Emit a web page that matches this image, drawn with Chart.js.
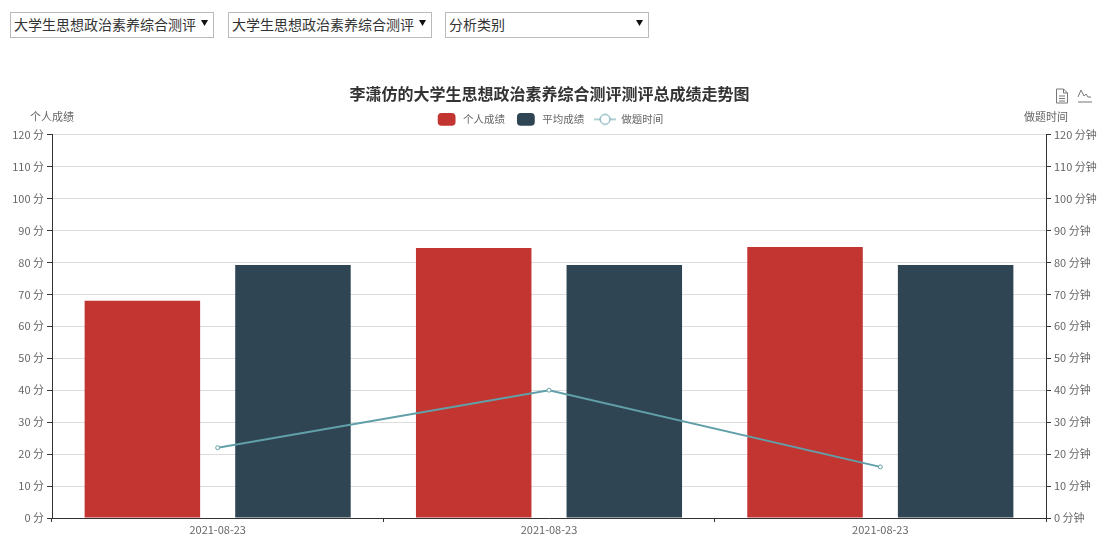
<!DOCTYPE html>
<html lang="zh">
<head>
<meta charset="utf-8">
<title>走势图</title>
<script src="https://cdn.jsdelivr.net/npm/chart.js@4"></script>
<style>
  html, body { margin: 0; padding: 0; background: #fff; overflow: hidden; }
  body { width: 1099px; height: 534px; position: relative; font-family: "Noto Sans CJK SC", sans-serif; }
  canvas { position: absolute; left: 0; top: 0; }
  select {
    position: absolute; top: 12px; height: 26px; box-sizing: border-box;
    border: 1px solid #bbb; border-radius: 0; background: #fff; color: #333;
    font: 14px "Noto Sans CJK SC", sans-serif; padding: 0 0 2px 3px;
    -webkit-appearance: none; appearance: none;
    background-image: url("data:image/svg+xml,%3Csvg xmlns='http://www.w3.org/2000/svg' width='8' height='6'%3E%3Cpath d='M0 0h7L3.500 6z' fill='%23111'/%3E%3C/svg%3E");
    background-repeat: no-repeat; background-position: right 4px top 7px;
  }
  .axis-name { position: absolute; top: 109px; font-size: 11px; line-height: 14px; color: #666; }
  .tool { position: absolute; top: 88px; }
</style>
</head>
<body>
<select style="left:10px;width:204px"><option>大学生思想政治素养综合测评</option></select>
<select style="left:228px;width:204px"><option>大学生思想政治素养综合测评</option></select>
<select style="left:445px;width:204px"><option>分析类别</option></select>

<canvas id="trendChart" width="1099" height="534"></canvas>

<span class="axis-name" style="left:30px">个人成绩</span>
<span class="axis-name" style="left:1024px">做题时间</span>

<svg class="tool" style="left:1055px" width="14" height="16" viewBox="0 0 14 16" fill="none" stroke="#777">
  <path d="M1.500 1h7l4 4v10h-11zM8.500 1v4h4M4 8h6M4 10.500h6M4 13h6"/>
</svg>
<svg class="tool" style="left:1077px" width="16" height="16" viewBox="0 0 16 16" fill="none" stroke="#777">
  <path d="M1 9l3-7 3 6 2-2 2 3h3M1 14h14"/>
</svg>

<script>
const categories = ['2021-08-23', '2021-08-23', '2021-08-23'];
const personalScores = [68, 84.5, 84.8];
const averageScores = [79.2, 79.2, 79.2];
const durationMinutes = [22, 40, 16];
const chartTitle = '李潇仿的大学生思想政治素养综合测评测评总成绩走势图';

const FONT = '"Noto Sans CJK SC", sans-serif';
const RED = '#c23531', NAVY = '#2f4554', TEAL = '#61a0a8';

// legend swatch for the line series: short line with an open circle
function lineSwatch() {
  const c = document.createElement('canvas');
  c.width = 22; c.height = 14;
  const g = c.getContext('2d');
  g.strokeStyle = TEAL;
  g.lineWidth = 1;
  g.beginPath();
  g.moveTo(0, 7); g.lineTo(22, 7);
  g.stroke();
  g.beginPath();
  g.arc(11, 7, 5, 0, Math.PI * 2);
  g.fillStyle = '#fff';
  g.fill();
  g.stroke();
  return c;
}

function yAxis(position, unit, width, onChart) {
  return {
    position: position,
    min: 0,
    max: 120,
    afterFit: function(scale) { scale.width = width; },
    ticks: {
      stepSize: 10,
      color: '#666',
      padding: 3,
      font: { family: FONT, size: 11 },
      callback: function(v) { return v + ' ' + unit; }
    },
    border: { color: '#333', width: 1 },
    grid: { color: '#ddd', tickColor: '#333', tickLength: 5, drawOnChartArea: onChart }
  };
}

new Chart(document.getElementById('trendChart').getContext('2d'), {
  data: {
    labels: categories,
    datasets: [
      {
        type: 'line',
        label: '做题时间',
        data: durationMinutes,
        yAxisID: 'yTime',
        borderColor: TEAL,
        borderWidth: 2,
        pointRadius: 2,
        pointBorderWidth: 1,
        pointBackgroundColor: '#fff',
        pointBorderColor: TEAL,
        order: 0
      },
      {
        type: 'bar',
        label: '个人成绩',
        data: personalScores,
        yAxisID: 'y',
        backgroundColor: RED,
        categoryPercentage: 0.909,
        barPercentage: 0.767,
        order: 1
      },
      {
        type: 'bar',
        label: '平均成绩',
        data: averageScores,
        yAxisID: 'y',
        backgroundColor: NAVY,
        categoryPercentage: 0.909,
        barPercentage: 0.767,
        order: 1
      }
    ]
  },
  options: {
    responsive: false,
    animation: false,
    layout: { padding: { top: 84.4 } },
    scales: {
      x: {
        afterFit: function(scale) { scale.height = 16; },
        ticks: { color: '#666', padding: 1, font: { family: FONT, size: 11 } },
        border: { color: '#333', width: 1 },
        grid: { drawOnChartArea: false, tickColor: '#333', tickLength: 4 }
      },
      y: yAxis('left', '分', 52, true),
      yTime: yAxis('right', '分钟', 53, false)
    },
    plugins: {
      tooltip: { enabled: false },
      title: {
        display: true,
        text: chartTitle,
        color: '#333',
        padding: { top: 0, bottom: 0.5 },
        font: { family: FONT, size: 16, weight: 'bold' }
      },
      legend: {
        display: true,
        position: 'top',
        labels: {
          color: '#666',
          padding: 10,
          boxHeight: 12,
          usePointStyle: true,
          pointStyleWidth: 22,
          font: { family: FONT, size: 10.5 },
          sort: function(a, b) { return a.text === '做题时间' ? 1 : b.text === '做题时间' ? -1 : 0; },
          generateLabels: function(chart) {
            const items = Chart.defaults.plugins.legend.labels.generateLabels(chart);
            return items.map(function(item) {
              item.pointStyle = item.text === '做题时间' ? lineSwatch() : 'rectRounded';
              item.lineWidth = 0;
              return item;
            });
          }
        }
      }
    }
  }
});
</script>
</body>
</html>
